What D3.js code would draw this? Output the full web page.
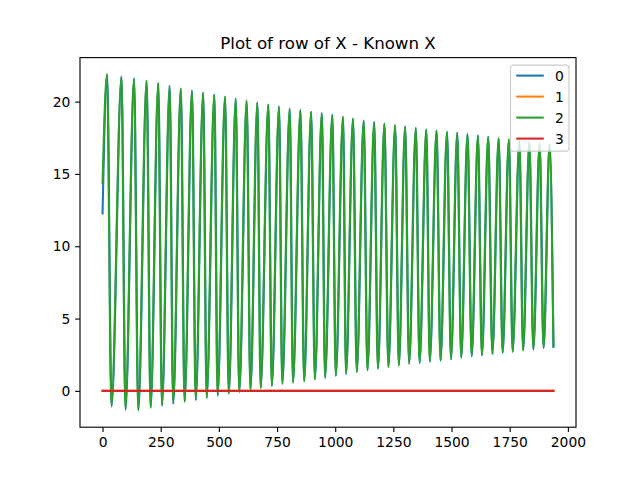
<!DOCTYPE html>
<html>
<head>
<meta charset="utf-8">
<script src="https://cdn.jsdelivr.net/npm/d3@7"></script>
<style>
    body { margin: 0; background: #ffffff; }
    text { font-family: "DejaVu Sans", sans-serif; }
</style>
</head>
<body>
<div id="chart"></div>
<script>
// Values.
const seriesNames = ["0", "1", "2", "3"];
const seriesColors = ["#1f77b4", "#ff7f0e", "#2ca02c", "#d62728"];

// Turning points of the oscillating rows (2 and, almost identical, 0).
const peakX = [19, 81, 135, 189, 239, 288, 336, 384, 432, 480, 526, 572, 619, 665, 712, 758,
    804, 850, 896, 942, 987, 1033, 1076, 1122, 1167, 1211, 1257, 1300, 1346, 1391, 1435,
    1480, 1524, 1568, 1613, 1657, 1702, 1746, 1791, 1834, 1878, 1921];
const peakY = [21.88, 21.74, 21.60, 21.46, 21.28, 21.09, 20.91, 20.77, 20.63, 20.49, 20.35,
    20.21, 20.08, 19.94, 19.80, 19.66, 19.52, 19.41, 19.29, 19.20, 19.09, 18.95, 18.83,
    18.69, 18.58, 18.48, 18.37, 18.28, 18.17, 18.07, 18.00, 17.91, 17.84, 17.75, 17.65,
    17.56, 17.47, 17.38, 17.29, 17.20, 17.12, 17.06];
const troughX = [38, 98, 153, 206, 255, 303, 352, 400, 447, 494, 542, 587, 635, 679, 727,
    772, 818, 866, 912, 956, 1002, 1046, 1092, 1138, 1183, 1228, 1273, 1317, 1362, 1406,
    1452, 1497, 1541, 1586, 1630, 1675, 1719, 1762, 1807, 1851, 1895];
const troughY = [-1.07, -1.30, -1.35, -1.16, -1.02, -0.89, -0.75, -0.63, -0.49, -0.33, -0.19,
    -0.08, 0.06, 0.20, 0.34, 0.48, 0.57, 0.66, 0.80, 0.91, 1.05, 1.17, 1.31, 1.42, 1.54,
    1.65, 1.76, 1.88, 1.93, 2.02, 2.09, 2.18, 2.30, 2.39, 2.46, 2.55, 2.64, 2.71, 2.80,
    2.87, 2.97];
const lastX = 1938;
const startY0 = 12.26;   // row 0 starts lower
const startY2 = 14.34;
const endY = 3.05;
const lag0 = 1;          // row 0 trails row 2 very slightly

// Rows 1 and 3 stay flat on zero.
const flatX = [0, lastX];
const flatY = [0, 0];

const xTicks = [0, 250, 500, 750, 1000, 1250, 1500, 1750, 2000];
const yTicks = [0, 5, 10, 15, 20];
const title = "Plot of row of X - Known X";

// Build point lists from the turning points.
function wave(startY, shift) {
    const pts = [[0, startY]];
    for (let i = 0; i < peakX.length; i++) {
        pts.push([peakX[i] + shift, peakY[i]]);
        if (i < troughX.length) {
            pts.push([troughX[i] + shift, troughY[i]]);
        }
    }
    pts.push([lastX, endY]);
    return pts;
}

const flat = flatX.map((x, i) => [x, flatY[i]]);
const series = [wave(startY0, lag0), flat, wave(startY2, 0), flat];

// matplotlib sizes are in points, 100 dpi
const pt = 100 / 72;
const width = 640, height = 480;
const margin = { top: 57.6, right: 64, bottom: 52.8, left: 80 };
const plotW = width - margin.left - margin.right;
const plotH = height - margin.top - margin.bottom;

// matplotlib-like 5% padding around the data.
const allPts = series.flat();
const [x0, x1] = d3.extent(allPts, d => d[0]);
const [y0, y1] = d3.extent(allPts, d => d[1]);
const xPad = (x1 - x0) * 0.05, yPad = (y1 - y0) * 0.05;

const x = d3.scaleLinear().domain([x0 - xPad, x1 + xPad]).range([0, plotW]);
const y = d3.scaleLinear().domain([y0 - yPad, y1 + yPad]).range([plotH, 0]);

const svg = d3.select("#chart")
    .append("svg")
    .attr("width", width)
    .attr("height", height)
    .style("background-color", "#ffffff");

const vis = svg.append("g")
    .attr("transform", `translate(${margin.left},${margin.top})`);

vis.append("defs")
    .append("clipPath")
    .attr("id", "clip")
    .append("rect")
    .attr("width", plotW)
    .attr("height", plotH);

const line = d3.line()
    .x(d => x(d[0]))
    .y(d => y(d[1]))
    .curve(d3.curveMonotoneX);

vis.append("g")
    .attr("clip-path", "url(#clip)")
    .selectAll("path")
    .data(series)
    .enter()
    .append("path")
    .attr("d", line)
    .attr("fill", "none")
    .attr("stroke", (d, i) => seriesColors[i])
    .attr("stroke-width", 1.5 * pt)
    .attr("stroke-linejoin", "round")
    .attr("stroke-linecap", "square");

// Axes
const xAxis = vis.append("g")
    .attr("transform", `translate(0,${plotH})`)
    .call(d3.axisBottom(x).tickValues(xTicks).tickFormat(d3.format("d"))
        .tickSize(3.5 * pt).tickPadding(3.5 * pt));

const yAxis = vis.append("g")
    .call(d3.axisLeft(y).tickValues(yTicks).tickFormat(d3.format("d"))
        .tickSize(3.5 * pt).tickPadding(3.5 * pt));

[xAxis, yAxis].forEach(a => {
    a.select(".domain").remove();
    a.selectAll(".tick line").attr("stroke", "#000").attr("stroke-width", 0.8 * pt);
    a.selectAll(".tick text")
        .attr("fill", "#000")
        .style("font-size", (10 * pt) + "px")
        .style("font-family", "'DejaVu Sans', sans-serif");
});

// Frame
vis.append("rect")
    .attr("width", plotW)
    .attr("height", plotH)
    .attr("fill", "none")
    .attr("stroke", "#000")
    .attr("stroke-width", 0.8 * pt);

// Title
svg.append("text")
    .attr("x", margin.left + plotW / 2)
    .attr("y", margin.top - 6 * pt)
    .attr("text-anchor", "middle")
    .style("font-size", (12 * pt) + "px")
    .text(title);

// Legend
const legend = vis.append("g")
    .attr("transform", `translate(${plotW - 65.5},${7.5})`);

legend.append("rect")
    .attr("width", 58.5)
    .attr("height", 86)
    .attr("rx", 2.5)
    .attr("fill", "#ffffff")
    .attr("fill-opacity", 0.8)
    .attr("stroke", "#cccccc")
    .attr("stroke-width", 0.8 * pt);

const item = legend.selectAll(".item")
    .data(seriesNames)
    .enter()
    .append("g")
    .attr("class", "item")
    .attr("transform", (d, i) => `translate(0,${10.5 + i * 21})`);

item.append("line")
    .attr("x1", 5.7)
    .attr("x2", 33.3)
    .attr("stroke", (d, i) => seriesColors[i])
    .attr("stroke-width", 1.5 * pt);

item.append("text")
    .attr("x", 44.5)
    .attr("dy", "0.36em")
    .style("font-size", (10 * pt) + "px")
    .text(d => d);
</script>
</body>
</html>
